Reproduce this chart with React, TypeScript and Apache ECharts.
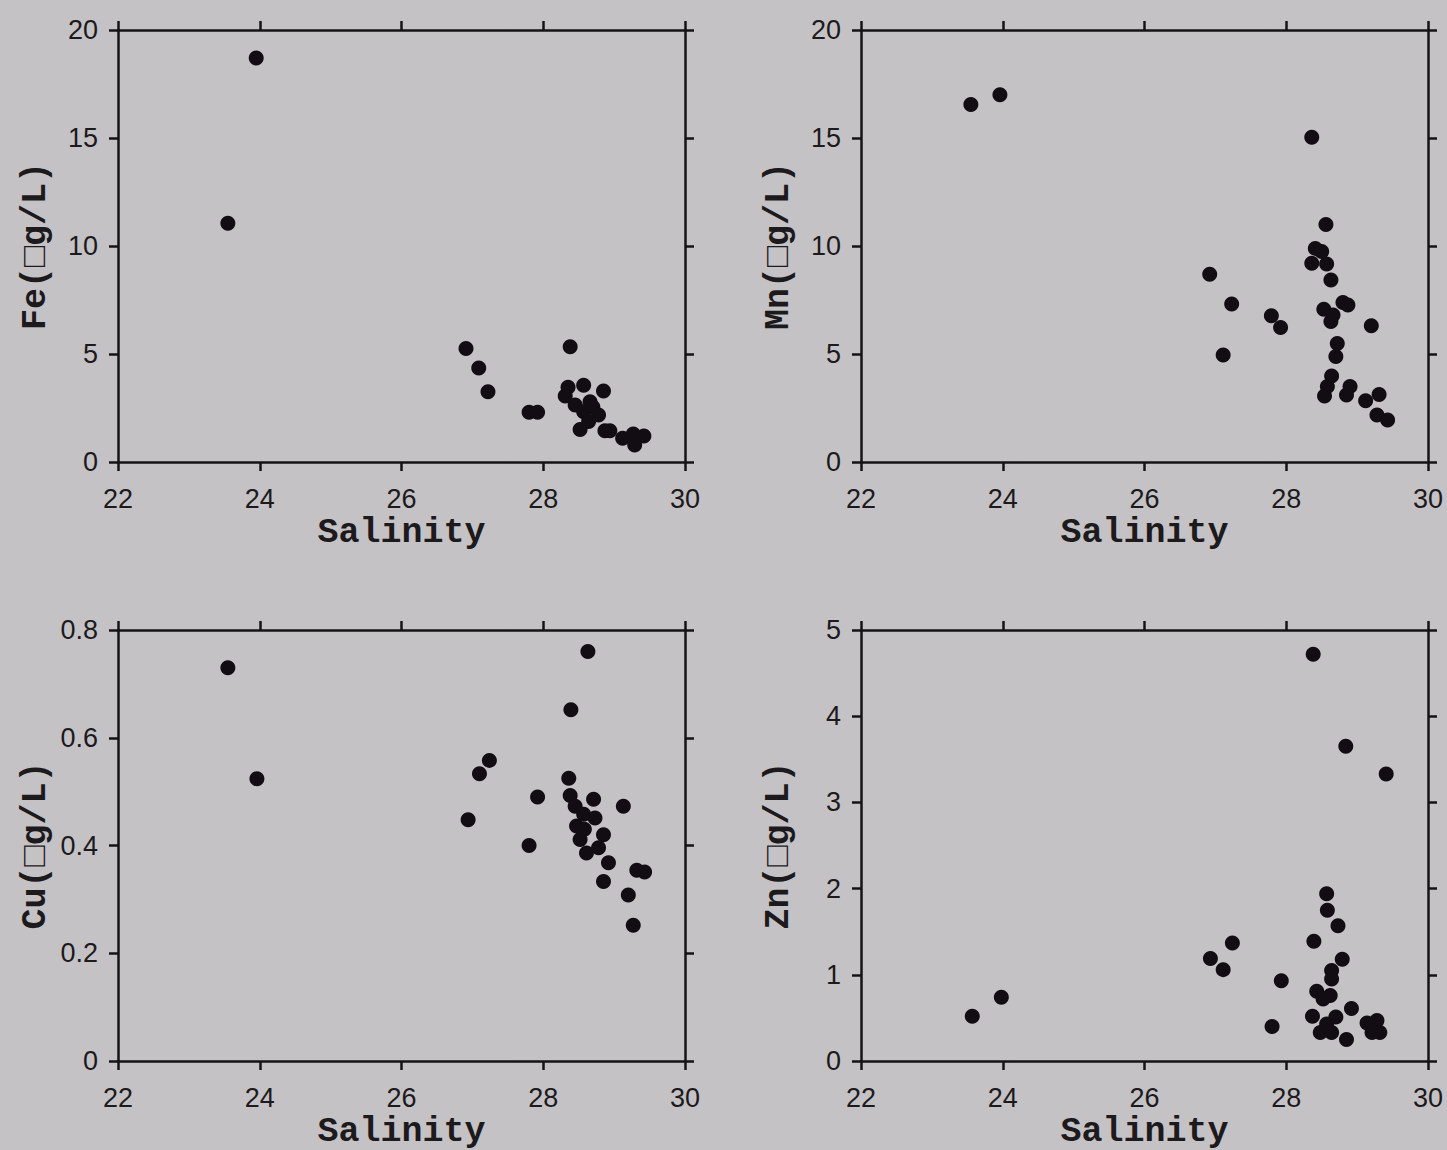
import React, { useEffect, useRef } from "react";
import * as echarts from "echarts";

const X_MIN = 22;
const X_MAX = 30;
const X_INTERVAL = 2;

const feData: number[][] = [
  [23.95, 18.7], [23.55, 11.05], [26.91, 5.25], [27.09, 4.35], [27.22, 3.25], [27.8, 2.3], [27.92, 2.3],
  [28.38, 5.34], [28.35, 3.46], [28.57, 3.55], [28.31, 3.06], [28.45, 2.64], [28.66, 2.79], [28.85, 3.29],
  [28.57, 2.33], [28.7, 2.55], [28.78, 2.18], [28.64, 1.87], [28.52, 1.51], [28.87, 1.45], [28.94, 1.45],
  [29.12, 1.1], [29.27, 1.3], [29.42, 1.2], [29.29, 0.79],
];

const mnData: number[][] = [
  [23.55, 16.55], [23.96, 17.0], [26.92, 8.69], [27.23, 7.31], [27.79, 6.77], [27.92, 6.23], [27.11, 4.95],
  [28.36, 15.03], [28.56, 11.0], [28.41, 9.89], [28.5, 9.75], [28.36, 9.2], [28.57, 9.17], [28.63, 8.43],
  [28.53, 7.07], [28.66, 6.8], [28.63, 6.5], [28.8, 7.38], [28.87, 7.27], [29.2, 6.31], [28.72, 5.49],
  [28.7, 4.88], [28.64, 3.98], [28.58, 3.49], [28.54, 3.06], [28.9, 3.49], [28.85, 3.1], [29.31, 3.13],
  [29.12, 2.84], [29.28, 2.18], [29.43, 1.94],
];

const cuData: number[][] = [
  [23.55, 0.73], [23.96, 0.524], [26.94, 0.448], [27.1, 0.533], [27.24, 0.558], [27.8, 0.4], [27.92, 0.49],
  [28.63, 0.76], [28.39, 0.652], [28.36, 0.525], [28.38, 0.493], [28.45, 0.473], [28.71, 0.486], [29.13, 0.473],
  [28.57, 0.458], [28.73, 0.451], [28.47, 0.436], [28.58, 0.43], [28.85, 0.42], [28.52, 0.411], [28.78, 0.396],
  [28.61, 0.386], [28.92, 0.368], [28.85, 0.333], [29.32, 0.354], [29.43, 0.351], [29.2, 0.308], [29.27, 0.252],
];

const znData: number[][] = [
  [23.57, 0.52], [23.98, 0.74], [26.93, 1.19], [27.11, 1.06], [27.24, 1.37], [27.8, 0.4], [27.93, 0.93],
  [28.38, 4.72], [28.84, 3.65], [29.41, 3.33],
  [28.57, 1.94], [28.58, 1.75], [28.73, 1.57], [28.39, 1.39], [28.79, 1.18], [28.64, 1.05], [28.64, 0.95],
  [28.43, 0.81], [28.62, 0.76], [28.52, 0.72], [28.92, 0.61], [28.37, 0.52], [28.7, 0.51], [28.57, 0.43],
  [28.48, 0.33], [28.64, 0.33], [28.85, 0.25], [29.28, 0.47], [29.14, 0.44], [29.21, 0.33], [29.32, 0.33],
];

const yNames = ["Fe(□g/L)", "Mn(□g/L)", "Cu(□g/L)", "Zn(□g/L)"];
const yMaxes = [20, 20, 0.8, 5];
const yIntervals = [5, 5, 0.2, 1];
const xName = "Salinity";

const BG = "#c5c2c6";
const INK = "#161316";

export default function App() {
  const ref = useRef<HTMLDivElement>(null);

  useEffect(() => {
    if (!ref.current) return;
    const chart = echarts.init(ref.current, undefined, { renderer: "svg" });
    const datasets = [feData, mnData, cuData, znData];
    const pos = [
      { left: 118, top: 30 },
      { left: 861, top: 30 },
      { left: 118, top: 630 },
      { left: 861, top: 630 },
    ];
    const W = 567;
    const H = 432;

    const axisLine = { show: true, onZero: false, lineStyle: { color: INK, width: 2.5 } };
    const axisTick = { show: true, inside: false, length: 9, lineStyle: { color: INK, width: 2.5 } };
    const tickFont = { fontFamily: "Liberation Sans, Arial, sans-serif", fontSize: 27, color: "#1c1a1c" };
    const nameFont = { fontFamily: "Liberation Mono, Courier New, monospace", fontWeight: "bold" as const, fontSize: 35, color: "#1c1a1c" };

    const grid: any[] = [];
    const xAxis: any[] = [];
    const yAxis: any[] = [];
    const series: any[] = [];

    pos.forEach((p, i) => {
      grid.push({ left: p.left, top: p.top, width: W, height: H, containLabel: false });
      xAxis.push({
        type: "value", gridIndex: i, position: "bottom", min: X_MIN, max: X_MAX, interval: X_INTERVAL,
        axisLine, axisTick, splitLine: { show: false },
        axisLabel: { ...tickFont, margin: 23 },
        name: xName, nameLocation: "middle", nameGap: 53, nameTextStyle: nameFont,
      });
      xAxis.push({
        type: "value", gridIndex: i, position: "top", min: X_MIN, max: X_MAX, interval: X_INTERVAL,
        axisLine, axisTick, splitLine: { show: false }, axisLabel: { show: false },
      });
      yAxis.push({
        type: "value", gridIndex: i, position: "left", min: 0, max: yMaxes[i], interval: yIntervals[i],
        axisLine, axisTick, splitLine: { show: false },
        axisLabel: { ...tickFont, margin: 20 },
        name: yNames[i], nameLocation: "middle", nameGap: 65, nameRotate: 90, nameTextStyle: nameFont,
      });
      yAxis.push({
        type: "value", gridIndex: i, position: "right", min: 0, max: yMaxes[i], interval: yIntervals[i],
        axisLine, axisTick, splitLine: { show: false }, axisLabel: { show: false },
      });
      series.push({
        type: "scatter", xAxisIndex: 2 * i, yAxisIndex: 2 * i, data: datasets[i],
        symbol: "circle", symbolSize: 15, itemStyle: { color: "#120d12", opacity: 1 },
      });
    });

    chart.setOption({
      animation: false,
      backgroundColor: BG,
      grid, xAxis, yAxis, series,
    });
    return () => chart.dispose();
  }, []);

  return (
    <div
      ref={ref}
      style={{ position: "fixed", left: 0, top: 0, width: 1447, height: 1150, background: BG }}
    />
  );
}
